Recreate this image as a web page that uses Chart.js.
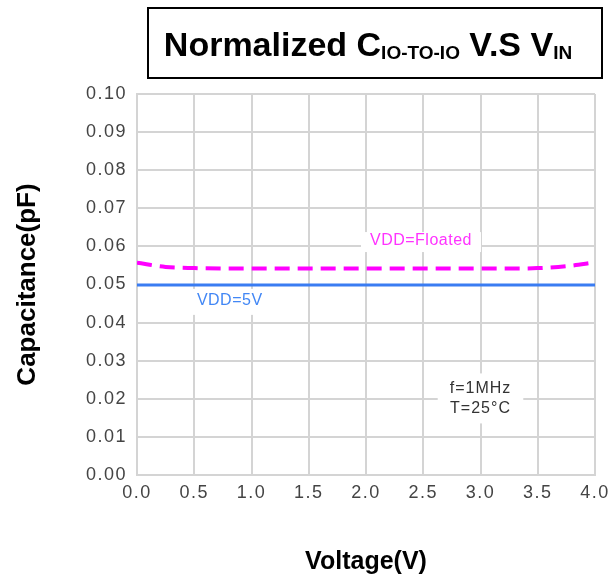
<!DOCTYPE html>
<html><head><meta charset="utf-8">
<script src="https://cdn.jsdelivr.net/npm/chart.js@4"></script>
<style>html,body{margin:0;padding:0;background:#fff}canvas{display:block}</style>
</head><body>
<canvas id="c" width="616" height="581"></canvas>
<script>
// ---- data ----
const voltage = [0, 0.25, 0.5, 0.75, 1.0, 1.25, 1.5, 1.75, 2.0, 2.25, 2.5, 2.75, 3.0, 3.25, 3.5, 3.75, 4.0];
const capFloated = [0.0557, 0.0546, 0.0543, 0.0542, 0.0542, 0.0542, 0.0542, 0.0542, 0.0542, 0.0542, 0.0542, 0.0542, 0.0542, 0.0542, 0.0543, 0.0548, 0.0558];
const cap5V = [0.0499, 0.0499, 0.0499, 0.0499, 0.0499, 0.0499, 0.0499, 0.0499, 0.0499, 0.0499, 0.0499, 0.0499, 0.0499, 0.0499, 0.0499, 0.0499, 0.0499];
const xTickLabels = ['0.0', '0.5', '1.0', '1.5', '2.0', '2.5', '3.0', '3.5', '4.0'];
const yTickLabels = ['0.00', '0.01', '0.02', '0.03', '0.04', '0.05', '0.06', '0.07', '0.08', '0.09', '0.10'];
const seriesNames = ['VDD=Floated', 'VDD=5V'];
const noteLines = ['f=1MHz', 'T=25°C'];
// label anchors in data units
const floatedLabelAt = [2.48, 0.0614];
const v5LabelAt = [0.81, 0.0457];
const noteAt = [3.0, 0.0201];

const FONT = "'Liberation Sans', Arial, sans-serif";

const bgPlugin = {
  id: 'bg',
  beforeDraw(chart) {
    const ctx = chart.ctx;
    ctx.save();
    ctx.fillStyle = '#fff';
    ctx.fillRect(0, 0, chart.width, chart.height);
    ctx.restore();
    ctx.letterSpacing = '1.5px';
  },
  afterUpdate(chart) {
    Object.values(chart.scales).forEach(s => {
      if (s._patchedTitle) return;
      const orig = s.drawTitle;
      s.drawTitle = function () {
        const ctx = this.ctx;
        const ls = ctx.letterSpacing;
        ctx.letterSpacing = '0px';
        orig.apply(this, arguments);
        ctx.letterSpacing = ls;
      };
      s._patchedTitle = true;
    });
  }
};

const labelsPlugin = {
  id: 'labels',
  beforeDatasetsDraw(chart) {
    const ctx = chart.ctx;
    const xs = chart.scales.x, ys = chart.scales.y;
    ctx.save();
    ctx.textAlign = 'center';
    ctx.textBaseline = 'middle';
    // VDD=Floated
    ctx.letterSpacing = '0.5px';
    let px = xs.getPixelForValue(floatedLabelAt[0]), py = ys.getPixelForValue(floatedLabelAt[1]);
    ctx.font = '16px ' + FONT;
    let w = ctx.measureText(seriesNames[0]).width;
    ctx.fillStyle = '#fff';
    ctx.fillRect(px - w / 2 - 9, py - 9, w + 18, 20);
    ctx.fillStyle = '#ff33ff';
    ctx.fillText(seriesNames[0], px, py);
    // VDD=5V
    px = xs.getPixelForValue(v5LabelAt[0]); py = ys.getPixelForValue(v5LabelAt[1]);
    w = ctx.measureText(seriesNames[1]).width;
    ctx.fillStyle = '#fff';
    ctx.fillRect(px - w / 2 - 9, py - 12, w + 18, 26);
    ctx.fillStyle = '#4287f5';
    ctx.fillText(seriesNames[1], px, py);
    // note
    ctx.letterSpacing = '1px';
    px = xs.getPixelForValue(noteAt[0]); py = ys.getPixelForValue(noteAt[1]);
    ctx.font = '16px ' + FONT;
    w = Math.max(ctx.measureText(noteLines[0]).width, ctx.measureText(noteLines[1]).width);
    ctx.fillStyle = '#fff';
    ctx.fillRect(px - w / 2 - 12, py - 25, w + 24, 50);
    ctx.fillStyle = '#333';
    ctx.fillText(noteLines[0], px, py - 10);
    ctx.fillText(noteLines[1], px, py + 10);
    ctx.restore();
  },
  afterDraw(chart) {
    const ctx = chart.ctx;
    ctx.save();
    ctx.letterSpacing = '0px';
    // title box
    ctx.strokeStyle = '#000';
    ctx.lineWidth = 2;
    ctx.strokeRect(148, 8, 454, 70);
    ctx.fillStyle = '#000';
    ctx.textBaseline = 'alphabetic';
    ctx.textAlign = 'left';
    const parts = [
      ['Normalized C', 34, 0],
      ['IO-TO-IO', 19, 3],
      [' V.S V', 34, 0],
      ['IN', 19, 3]
    ];
    let total = 0;
    parts.forEach(p => { ctx.font = 'bold ' + p[1] + 'px ' + FONT; total += ctx.measureText(p[0]).width; });
    let x = 368 - total / 2;
    const base = 56;
    parts.forEach(p => {
      ctx.font = 'bold ' + p[1] + 'px ' + FONT;
      ctx.fillText(p[0], x, base + p[2]);
      x += ctx.measureText(p[0]).width;
    });
    ctx.restore();
    ctx.letterSpacing = '1.5px';
  }
};

new Chart(document.getElementById('c'), {
  type: 'line',
  data: {
    datasets: [
      {
        label: seriesNames[0],
        data: voltage.map((v, i) => ({ x: v, y: capFloated[i] })),
        borderColor: '#ff00ff',
        borderWidth: 4,
        borderDash: [15, 8],
        pointRadius: 0,
        cubicInterpolationMode: 'monotone',
        fill: false
      },
      {
        label: seriesNames[1],
        data: voltage.map((v, i) => ({ x: v, y: cap5V[i] })),
        borderColor: '#3a7cf2',
        borderWidth: 3,
        pointRadius: 0,
        fill: false
      }
    ]
  },
  options: {
    responsive: false,
    animation: false,
    devicePixelRatio: 1,
    layout: { padding: { left: 0, top: 94, right: 21, bottom: 0 } },
    plugins: { legend: { display: false }, tooltip: { enabled: false }, title: { display: false } },
    scales: {
      x: {
        type: 'linear',
        min: 0, max: 4,
        afterFit(s) { s.height = 106; },
        afterBuildTicks(s) { s.ticks = xTickLabels.map(t => ({ value: parseFloat(t) })); },
        grid: { color: '#d4d4d4', lineWidth: 2, drawTicks: false },
        border: { color: '#d4d4d4', width: 2 },
        ticks: {
          maxRotation: 0, autoSkip: false, padding: 7,
          color: '#444', font: { family: FONT, size: 18 },
          callback: (v, i) => xTickLabels[i]
        },
        title: {
          display: true, text: 'Voltage(V)', color: '#000',
          font: { family: FONT, size: 25, weight: 'bold' },
          padding: { top: 0, bottom: 4 }
        }
      },
      y: {
        type: 'linear',
        min: 0, max: 0.1,
        afterFit(s) { s.width = 137; },
        afterBuildTicks(s) { s.ticks = yTickLabels.map(t => ({ value: parseFloat(t) })); },
        grid: { color: '#d4d4d4', lineWidth: 2, drawTicks: false },
        border: { color: '#d4d4d4', width: 2 },
        ticks: {
          padding: 10, autoSkip: false,
          color: '#444', font: { family: FONT, size: 18 },
          callback: (v, i) => yTickLabels[i]
        },
        title: {
          display: true, text: 'Capacitance(pF)', color: '#000',
          font: { family: FONT, size: 26, weight: 'bold' },
          padding: { top: 12, bottom: 0 }
        }
      }
    }
  },
  plugins: [bgPlugin, labelsPlugin]
});
</script>
</body></html>
